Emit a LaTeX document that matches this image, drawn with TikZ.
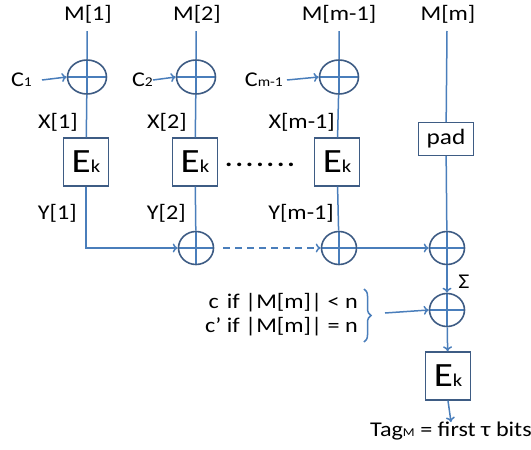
\documentclass[tikz,border=0pt]{standalone}
\usepackage{fontspec}
\setmainfont{Carlito}[FakeStretch=1.15]
\usetikzlibrary{arrows.meta,shapes.geometric,decorations.pathreplacing}
\definecolor{lb}{RGB}{74,126,187}
\definecolor{db}{RGB}{62,92,132}
\begin{document}
\begin{tikzpicture}[x=1pt,y=-1pt,
  lbl/.style={inner sep=0pt, text=black, font=\fontsize{21}{24}\selectfont},
  xor/.style={ellipse, draw=db, line width=1.6pt, minimum width=39pt, minimum height=34pt, inner sep=0pt,
    path picture={\draw[lb,line width=1.2pt] (path picture bounding box.north) -- (path picture bounding box.south)
      (path picture bounding box.west) -- (path picture bounding box.east);}},
  sxor/.style={xor, minimum width=35pt, minimum height=33pt},
  ekbox/.style={draw=db, line width=1.4pt, minimum width=45pt, minimum height=48pt, inner sep=0pt, text=black},
  wire/.style={lb, line width=1.5pt},
  arr/.style={wire, -{To[length=5pt,width=9pt]}},
  ek/.style={ekbox, node contents={\fontsize{34}{34}\selectfont E\fontsize{18}{18}\selectfont k}}
]
\useasboundingbox (0,0) rectangle (531,450);
% top labels
\node[lbl] (M1) at (88,14) {M[1]};
\node[lbl] (M2) at (197,14) {M[2]};
\node[lbl] (M3) at (339,14) {M[m-1]};
\node[lbl] (M4) at (448,14) {M[m]};
\coordinate (T1) at (87,31);
\coordinate (T2) at (196,31);
\coordinate (T3) at (339,31);
\coordinate (T4) at (447,31);
% top xors
\node[xor] (A1) at (87,77) {};
\node[xor] (A2) at (196,77) {};
\node[xor] (A3) at (339,77) {};
% c inputs
\node[lbl, anchor=east] (C1) at (32,80) {C\fontsize{13.5}{13.5}\selectfont 1};
\node[lbl, anchor=east] (C2) at (153,80) {C\fontsize{13.5}{13.5}\selectfont 2};
\node[lbl, anchor=east] (C3) at (283,80) {C\fontsize{13.5}{13.5}\selectfont m-1};
\draw[arr] ([xshift=10pt]C1.east) -- (A1.west);
\draw[arr] (C2.east) -- (A2.west);
\draw[arr] ([xshift=4pt]C3.east) -- (A3.west);
% X labels
\node[lbl, anchor=east] (X1) at (78,122) {X[1]};
\node[lbl, anchor=east] (X2) at (187,122) {X[2]};
\node[lbl, anchor=east] (X3) at (335,122) {X[m-1]};
% E boxes
\node (E1) at (86,162) [ek];
\node (E2) at (195,162) [ek];
\node (E3) at (337,162) [ek];
\node[ekbox, minimum width=55pt, minimum height=33pt, font=\fontsize{22}{22}\selectfont] (P) at (446,139) {pad};
\node[lbl, font=\fontsize{24}{24}\bfseries\selectfont] (D) at (260,165) {.\hspace{3pt}.\hspace{3pt}.\hspace{3pt}.\hspace{3pt}.\hspace{3pt}.\hspace{3pt}.};
% Y labels
\node[lbl, anchor=east] (Y1) at (77,213) {Y[1]};
\node[lbl, anchor=east] (Y2) at (186,213) {Y[2]};
\node[lbl, anchor=east] (Y3) at (334,213) {Y[m-1]};
% bottom row
\node[sxor] (B2) at (196,248) {};
\node[sxor] (B3) at (339,248) {};
\node[sxor] (B4) at (447,248) {};
\node[sxor] (B5) at (447,310) {};
\node (EF) at (448,376) [ek];
% wires
\draw[wire] (T1) -- (A1) -- (E1);
\draw[wire] (T2) -- (A2) -- (E2);
\draw[wire] (T3) -- (A3) -- (E3);
\draw[wire] (T4) -- (P) -- (B4);
\draw[arr] (E1.south) |- (B2.west);
\draw[wire] (E2) -- (B2);
\draw[wire] (E3) -- (B3);
\coordinate (DS) at (223,248);
\draw[arr, dashed, dash pattern=on 7pt off 5pt] (DS) -- (B3.west);
\draw[arr] (B3) -- (B4);
\draw[arr] (B4) -- (B5);
\node[lbl] (S) at (464,282) {Σ};
% brace and text
\node[lbl, anchor=east] (L1) at (358,303) {c\hspace{8pt}if |M[m]| < n};
\node[lbl, anchor=east] (L2) at (358,327) {c’ if |M[m]| = n};
\draw[wire, decorate, decoration={brace, amplitude=7pt}] (364,289) -- (364,342);
\coordinate (BR) at (385,313);
\draw[arr] (BR) -- (B5.west);
\draw[arr] (B5) -- (EF);
\node[lbl, anchor=north] (TG) at (451,422) {Tag\fontsize{12}{12}\selectfont M\fontsize{21}{24}\selectfont{} = first τ bits};
\draw[arr] (EF.south) -- (TG.north);
\end{tikzpicture}
\end{document}
